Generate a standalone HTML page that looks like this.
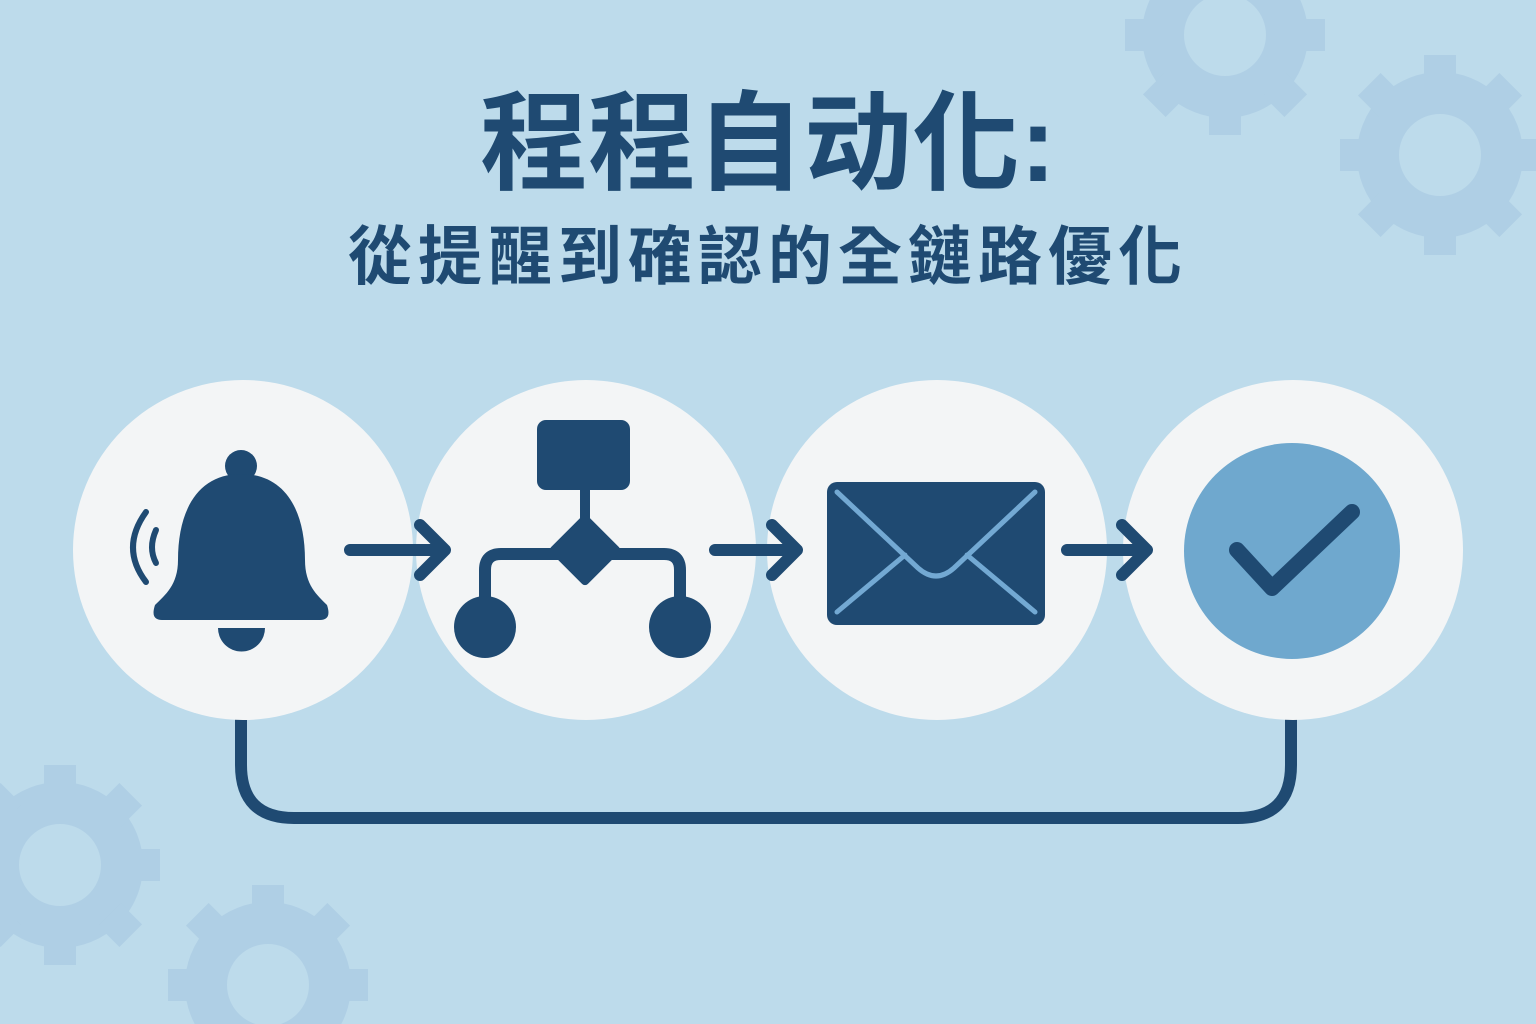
<!DOCTYPE html>
<html style="overflow:hidden"><head><meta charset="utf-8"><style>
html,body{margin:0;width:1536px;height:1024px;overflow:hidden}
body{background:#bddbeb;font-family:"Liberation Sans","Noto Sans CJK TC",sans-serif;position:relative}
.t{position:absolute;left:0;width:1536px;text-align:center;color:#1f4a72;font-weight:bold;white-space:nowrap}
</style></head><body>
<svg width="1536" height="1024" style="position:absolute;left:0;top:0;overflow:hidden">
<defs>
<g id="gear"><circle r="62" fill="none" stroke="#afcfe5" stroke-width="42"/>
<g fill="#afcfe5"><rect x="-16" y="-100" width="32" height="30"/><rect x="-16" y="-100" width="32" height="30" transform="rotate(45)"/><rect x="-16" y="-100" width="32" height="30" transform="rotate(90)"/><rect x="-16" y="-100" width="32" height="30" transform="rotate(135)"/><rect x="-16" y="-100" width="32" height="30" transform="rotate(180)"/><rect x="-16" y="-100" width="32" height="30" transform="rotate(225)"/><rect x="-16" y="-100" width="32" height="30" transform="rotate(270)"/><rect x="-16" y="-100" width="32" height="30" transform="rotate(315)"/></g></g>
</defs>
<use href="#gear" x="1225" y="35"/>
<use href="#gear" x="1440" y="155"/>
<use href="#gear" x="60" y="865"/>
<use href="#gear" x="268" y="985"/>
<path d="M241 718 V765 Q241 818 294 818 H1238 Q1291 818 1291 765 V718" fill="none" stroke="#1f4a72" stroke-width="12"/>
<g fill="#f3f5f6">
<circle cx="243" cy="550" r="170"/><circle cx="586" cy="550" r="170"/><circle cx="937" cy="550" r="170"/><circle cx="1293" cy="550" r="170"/>
</g>
<g fill="#1f4a72" stroke="none">
<circle cx="241" cy="466" r="16"/>
<path d="M241 474 C198 474 178 510 178 560 C178 585 165 595 155 605 Q150 620 162 620 H320 Q332 620 327 605 C317 595 305 585 305 560 C305 510 285 474 241 474Z"/>
<path d="M218 628 H265 A23.5 23.5 0 0 1 218 628Z"/>
</g>
<g fill="none" stroke="#1f4a72" stroke-width="6" stroke-linecap="round">
<path d="M146 512 Q120 548 146 582"/><path d="M156 530 Q148 548 156 563"/>
</g>
<g fill="none" stroke="#1f4a72" stroke-width="12" stroke-linecap="round" stroke-linejoin="round">
<path d="M350 550 H440 M420 525 L445 550 L420 575"/>
<path d="M715 550 H795 M772 525 L797 550 L772 575"/>
<path d="M1067 550 H1145 M1122 525 L1147 550 L1122 575"/>
<path d="M485 600 V570 Q485 554 501 554 H664 Q680 554 680 570 V600"/>
<line x1="585" y1="490" x2="585" y2="520" stroke-width="10"/>
</g>
<g fill="#1f4a72">
<rect x="537" y="420" width="93" height="70" rx="9"/>
<rect x="559" y="524" width="52" height="52" rx="4" transform="rotate(45 585 550)"/>
<ellipse cx="485" cy="627" rx="31" ry="31"/><ellipse cx="680" cy="627" rx="31" ry="31"/>
<rect x="827" y="482" width="218" height="143" rx="10"/>
</g>
<path d="M837 492 L918 568 Q936 584 954 568 L1035 492 M837 612 L905 555 M1035 612 L967 555" fill="none" stroke="#73a9d3" stroke-width="5" stroke-linecap="round"/>
<circle cx="1292" cy="551" r="108" fill="#6fa8ce"/>
<path d="M1237 550 L1272 588 L1352 512" fill="none" stroke="#1f4a72" stroke-width="16" stroke-linecap="round" stroke-linejoin="round"/>
</svg>
<div class="t" style="top:80px;font-size:108px;line-height:128px;letter-spacing:0">程程自动化:</div>
<div class="t" style="top:218px;font-size:64px;line-height:78px;letter-spacing:6px">從提醒到確認的全鏈路優化</div>
</body></html>
